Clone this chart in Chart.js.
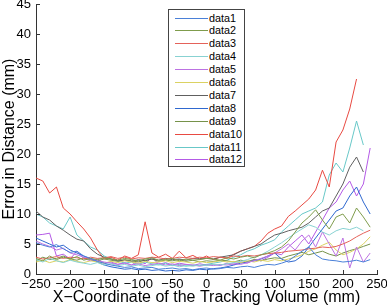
<!DOCTYPE html>
<html>
<head>
<meta charset="utf-8">
<script src="https://cdn.jsdelivr.net/npm/chart.js@4/dist/chart.umd.min.js"></script>
<style>
  body { margin: 0; background: #fff; }
  #wrap { position: relative; width: 387px; height: 308px; }
  #legend {
    position: absolute; left: 168px; top: 9px; width: 77px; height: 158px;
    border: 1px solid #444; background: #fff; box-sizing: border-box;
    font-family: "Liberation Sans", Arial, sans-serif; font-size: 10.8px; color: #000;
  }
  .row { position: absolute; left: 0; height: 13px; width: 100%; }
  .row span.ln { position: absolute; left: 6px; width: 33px; top: 6px; border-top: 1px solid; }
  .row span.tx { position: absolute; left: 40px; top: 0; line-height: 13px; }
</style>
</head>
<body>
<div id="wrap">
  <canvas id="chart" width="387" height="308"></canvas>
  <div id="legend"></div>
</div>
<script>
// x positions (mm)
const xs = [-250,-240,-230,-220,-210,-200,-190,-180,-170,-160,-150,-140,-130,-120,-110,-100,-90,-80,-70,-60,
  -50,-40,-30,-20,-10,0,10,20,30,40,50,60,70,80,90,100,110,120,130,140,150,160,170,180,190,200,210,220,230,240];

const data1 = [5.2,4.8,4.5,4.9,4.2,3.6,3.8,3.0,2.6,2.1,1.8,1.5,1.3,1.1,1.2,0.9,1.0,1.1,0.8,0.9,1.0,0.8,0.9,0.7,0.9,1.0,0.8,0.9,1.1,1.0,1.2,1.3,1.1,1.4,1.6,1.5,1.8,2.2,3.0,3.8,4.5,3.2,2.5,2.3,2.2,2.0,2.1,2.3,2.0,2.4];
const data2 = [2.6,2.2,3.0,2.4,2.8,2.5,2.9,2.3,2.6,2.4,2.7,2.5,2.3,2.6,2.4,2.2,2.5,2.7,2.3,2.4,2.6,2.2,2.5,2.3,2.4,2.6,2.5,2.3,2.7,2.5,2.8,3.0,2.7,3.2,3.5,3.9,4.5,5.5,7.0,8.5,9.5,10.7,9.0,7.5,9.5,10.0,8.5,11.0,9.5,7.8];
const data3 = [2.8,2.5,2.7,2.9,2.6,2.8,2.7,2.5,2.8,2.6,2.7,2.9,2.6,2.8,2.5,2.7,2.6,2.8,2.7,2.5,2.6,2.8,2.7,2.6,2.8,2.7,2.9,2.8,2.7,3.0,2.9,3.1,3.0,3.2,3.4,3.5,3.6,3.8,3.9,4.0,4.2,4.3,4.5,4.4,4.6,5.0,5.5,6.2,6.8,7.3];
const data4 = [2.4,2.0,2.6,2.2,1.9,2.3,2.0,1.8,1.6,1.9,1.5,1.7,1.4,1.6,1.3,1.5,1.2,1.4,1.6,1.3,1.5,1.2,1.4,1.3,1.5,1.4,1.6,1.5,1.7,1.9,2.1,2.4,2.8,3.2,3.8,4.5,5.2,6.0,6.8,7.5,8.2,7.8,7.0,6.5,7.2,7.6,7.4,7.8,7.2,null];
const data5 = [5.5,5.0,4.6,4.0,4.3,3.5,3.2,2.8,2.5,2.2,2.0,1.8,1.6,1.8,1.5,1.7,1.4,1.6,1.8,1.5,1.7,1.4,1.6,1.5,1.3,1.5,1.4,1.6,1.5,1.7,1.6,1.9,2.2,2.6,3.0,3.5,4.2,5.0,4.0,5.5,6.5,4.5,7.0,5.0,3.0,6.0,1.0,4.5,2.0,3.5];
const data6 = [2.0,2.3,1.9,2.2,2.0,2.4,2.1,1.9,2.2,2.0,1.8,2.1,1.9,2.2,2.0,1.8,2.1,1.9,2.0,2.2,1.9,2.1,2.0,1.8,2.1,1.9,2.0,2.2,2.0,2.1,1.9,2.2,2.0,2.3,2.1,2.4,2.2,2.5,2.8,3.2,3.8,4.2,4.8,5.3,4.0,3.2,3.6,4.2,5.0,6.2];
const data7 = [10.5,9.5,9.0,8.0,7.3,6.5,5.8,5.5,4.2,3.3,2.8,2.5,2.2,2.3,2.1,2.4,2.2,2.5,2.3,2.6,2.4,2.5,2.3,2.6,2.5,2.6,2.5,2.8,3.0,3.2,3.8,4.2,4.6,5.0,5.8,6.5,6.8,7.2,7.5,7.8,8.5,9.5,10.5,11.0,13.0,15.0,17.8,19.5,17.0,null];
const data8 = [6.0,5.5,5.0,4.5,4.8,4.0,3.5,3.0,2.5,2.0,1.5,1.2,1.0,0.8,0.9,0.7,0.8,0.6,0.7,0.5,0.6,0.5,0.7,0.6,0.8,0.7,0.9,1.0,1.2,1.5,1.8,2.0,2.2,2.5,3.0,3.5,2.5,2.0,2.2,3.0,4.5,6.0,7.5,9.0,10.5,11.0,13.0,14.5,12.0,10.0];
const data9 = [2.2,2.8,2.4,2.6,3.0,2.5,2.3,2.7,2.4,2.2,2.5,2.3,2.1,2.4,2.2,2.0,2.3,2.5,2.1,2.3,2.2,2.4,2.1,2.3,2.0,2.2,2.1,2.3,2.2,2.0,2.3,2.1,2.4,2.2,2.5,2.7,2.6,3.0,3.3,3.6,3.2,3.5,3.8,3.3,3.0,3.5,3.9,4.2,4.6,5.0];
const data10 = [16.0,15.5,13.5,14.5,11.0,10.0,8.7,7.5,6.0,4.0,2.5,2.8,2.3,3.0,2.6,3.2,8.7,3.5,2.8,3.3,2.6,3.8,2.7,3.1,2.5,3.0,2.4,2.8,2.6,3.3,3.8,4.2,4.6,5.5,6.8,7.5,8.0,9.6,10.5,11.5,12.5,14.0,17.3,14.5,22.0,24.0,27.5,32.5,null,null];
const data11 = [10.0,9.5,8.5,8.0,7.5,9.5,6.5,5.5,4.5,4.0,3.0,2.5,2.2,1.8,2.0,1.6,2.0,1.7,1.5,1.8,1.4,1.6,1.3,1.5,1.4,1.6,1.8,2.0,2.3,2.8,3.2,3.8,4.2,4.8,5.2,5.7,7.0,8.0,9.0,10.0,10.5,11.0,12.0,16.5,18.5,17.0,21.0,25.5,21.5,null];
const data12 = [6.5,6.6,6.8,3.0,3.3,2.5,3.8,2.6,2.2,2.5,1.8,2.0,1.6,1.9,1.5,2.2,1.7,2.8,1.6,1.9,1.5,1.8,1.6,1.4,1.7,1.5,1.6,1.4,1.8,1.6,2.0,1.8,2.4,2.2,2.8,3.5,3.2,4.5,5.5,6.5,5.0,7.0,9.0,11.0,12.0,14.0,15.5,13.0,15.0,21.0];

const seriesNames = ['data1','data2','data3','data4','data5','data6','data7','data8','data9','data10','data11','data12'];
const seriesValues = [data1,data2,data3,data4,data5,data6,data7,data8,data9,data10,data11,data12];
const colors = ['#4a80d8','#7f9c4c','#e4625a','#88d2d2','#bc72e2','#dbd262',
                '#606060','#2f68cf','#76924a','#e84a42','#68c8c8','#b45ae6'];

const xTicks = [-250,-200,-150,-100,-50,0,50,100,150,200,250];
const yTicks = [0,5,10,15,20,25,30,35,40,45];

const fontFam = '"Liberation Sans", Arial, sans-serif';

// small inward ticks, MATLAB style
const innerTicks = {
  id: 'innerTicks',
  afterDraw(chart) {
    const ctx = chart.ctx, xs_ = chart.scales.x, ys_ = chart.scales.y;
    const a = chart.chartArea;
    ctx.save();
    ctx.strokeStyle = '#333';
    ctx.lineWidth = 1;
    ctx.beginPath();
    xTicks.forEach(v => {
      const px = Math.round(xs_.getPixelForValue(v)) + 0.5;
      ctx.moveTo(px, a.bottom); ctx.lineTo(px, a.bottom - 4);
    });
    yTicks.forEach(v => {
      const py = Math.round(ys_.getPixelForValue(v)) + 0.5;
      ctx.moveTo(a.left, py); ctx.lineTo(a.left + 4, py);
    });
    ctx.stroke();
    ctx.restore();
  }
};

const chart = new Chart(document.getElementById('chart').getContext('2d'), {
  type: 'line',
  data: {
    datasets: seriesNames.map((n, i) => ({
      label: n,
      data: xs.map((x, j) => ({ x: x, y: seriesValues[i][j] })),
      borderColor: colors[i],
      backgroundColor: colors[i],
      borderWidth: 1,
      pointRadius: 0,
      tension: 0,
      spanGaps: false
    }))
  },
  options: {
    responsive: false,
    animation: false,
    layout: { padding: { top: 4, right: 10, left: 0, bottom: 0 } },
    plugins: { legend: { display: false }, tooltip: { enabled: false } },
    scales: {
      x: {
        type: 'linear', min: -250, max: 250,
        afterBuildTicks: s => { s.ticks = xTicks.map(v => ({ value: v })); },
        afterFit: s => { s.height = 34; s.paddingLeft = 0; s.paddingRight = 0; },
        grid: { display: false, drawTicks: false },
        border: { display: true, color: '#333' },
        ticks: {
          color: '#000', padding: 3, maxRotation: 0,
          font: { family: fontFam, size: 13 },
          callback: v => String(v).replace('-', '\u2212')
        },
        title: {
          display: true, text: 'X\u2212Coordinate of the Tracking Volume (mm)',
          color: '#000', font: { family: fontFam, size: 16 }, padding: { top: 0, bottom: 1 }
        }
      },
      y: {
        min: 0, max: 45,
        afterBuildTicks: s => { s.ticks = yTicks.map(v => ({ value: v })); },
        afterFit: s => { s.width = 36; s.paddingTop = 0; s.paddingBottom = 0; },
        grid: { display: false, drawTicks: false },
        border: { display: true, color: '#333' },
        ticks: { color: '#000', padding: 5, font: { family: fontFam, size: 13 } },
        title: {
          display: true, text: 'Error in Distance (mm)',
          color: '#000', font: { family: fontFam, size: 16 }, padding: { top: 0, bottom: 0 }
        }
      }
    }
  },
  plugins: [innerTicks]
});

// legend box drawn from the chart's datasets
const legend = document.getElementById('legend');
chart.data.datasets.forEach((ds, i) => {
  const row = document.createElement('div');
  row.className = 'row';
  row.style.top = (1.5 + i * 12.9) + 'px';
  row.innerHTML = '<span class="ln" style="border-color:' + ds.borderColor + '"></span><span class="tx">' + ds.label + '</span>';
  legend.appendChild(row);
});
</script>
</body>
</html>
